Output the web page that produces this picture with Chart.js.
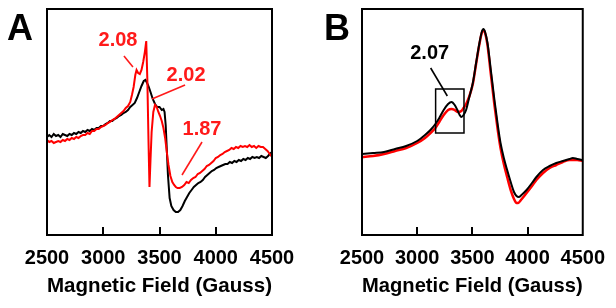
<!DOCTYPE html>
<html>
<head>
<meta charset="utf-8">
<script src="https://cdn.jsdelivr.net/npm/chart.js@4.4.0/dist/chart.umd.min.js"></script>
<style>
  html, body { margin: 0; padding: 0; background: #fff; }
  body { width: 616px; height: 308px; position: relative; overflow: hidden; }
  .panel { position: absolute; top: 0; width: 308px; height: 308px; }
  #wa { left: 0; }
  #wb { left: 308px; }
</style>
</head>
<body>
<div class="panel" id="wa"><canvas id="ca" width="308" height="308"></canvas></div>
<div class="panel" id="wb"><canvas id="cb" width="308" height="308"></canvas></div>
<script>
// ---------- DATA ----------
const xTicks = [2500, 3000, 3500, 4000, 4500];
const xTitle = "Magnetic Field (Gauss)";

// Panel A – black trace (field, intensity in arbitrary units)
const aBlackField = [2500,2520,2540,2560,2580,2600,2620,2640,2660,2680,2700,2720,2740,2760,2780,2800,2820,2840,2860,2880,2900,2920,2940,2960,2980,3000,3020,3040,3060,3080,3100,3120,3140,3160,3180,3200,3220,3240,3260,3280,3300,3320,3340,3360,3375,3390,3405,3420,3440,3460,3480,3500,3520,3535,3545,3555,3565,3575,3590,3605,3625,3645,3665,3685,3705,3725,3745,3765,3785,3805,3825,3845,3865,3885,3905,3925,3945,3965,3985,4005,4025,4045,4065,4085,4105,4125,4145,4165,4185,4205,4225,4245,4265,4285,4305,4325,4345,4365,4385,4405,4425,4445,4465,4480,4500];
const aBlackValue = [98,100,98,101,99,100,98,101,100,99,101,100,102,101,103,102,104,103,105,104,106,105,107,107,109,109,111,112,114,114,116,117,119,120,122,123,125,128,130,132,137,143,149,154,155,152,148,143,136,131,128,128,125,126,123,110,85,60,37,29,25,23,23,25,29,34,38,42,45,48,50,52,53,55,58,60,62,64,65,67,68,69,70,71,71,73,72,74,73,75,74,76,75,77,76,78,77,78,77,79,78,77,79,81,83];

// Panel A – red trace
const aRedField = [2500,2520,2540,2560,2580,2600,2620,2640,2660,2680,2700,2720,2740,2760,2780,2800,2820,2840,2860,2880,2900,2920,2940,2960,2980,3000,3020,3040,3060,3080,3100,3120,3140,3160,3180,3200,3220,3240,3255,3270,3285,3296,3310,3325,3340,3355,3370,3382,3392,3402,3411,3420,3430,3445,3460,3475,3490,3505,3520,3535,3550,3565,3580,3597,3614,3630,3645,3660,3680,3700,3720,3740,3760,3780,3800,3820,3840,3860,3880,3900,3920,3940,3960,3980,4000,4020,4040,4060,4080,4100,4120,4140,4160,4180,4200,4220,4240,4260,4280,4300,4320,4340,4360,4380,4400,4420,4440,4460,4480,4500];
const aRedValue = [95,93,94,92,93,94,93,95,94,96,95,97,96,98,97,99,100,100,102,101,104,104,106,106,108,109,110,112,113,115,116,118,120,122,124,127,129,133,140,148,160,165,162,161,165,173,183,194,155,95,48,75,103,123,130,128,123,119,114,107,97,83,70,59,53,50,48,47,47,48,50,53,52,55,57,58,61,62,64,66,69,70,72,74,77,78,80,81,83,84,85,87,86,88,87,89,88,89,88,90,88,89,87,89,88,88,86,84,81,78];

// Panel B – black trace
const bBlackField = [2500,2600,2700,2800,2900,3000,3071,3120,3165,3200,3240,3280,3311,3340,3364,3385,3400,3420,3443,3470,3504,3535,3564,3585,3600,3615,3637,3665,3700,3730,3755,3785,3815,3850,3877,3900,3920,3945,3991,4040,4080,4140,4200,4260,4320,4380,4410,4450,4500];
const bBlackValue = [81,82,83,86,89,94,100,105,111,117,125,131,133,130,125,120,118,120,125,137,152,173,192,203,206,203,192,167,135,110,92,77,65,52,43,39,38,40,45,52,58,65,69,72,74,76,77,76,75];

// Panel B – red trace
const bRedField = [2500,2600,2700,2800,2900,3000,3071,3120,3165,3200,3240,3280,3311,3340,3370,3400,3420,3443,3470,3504,3535,3564,3585,3600,3615,3637,3665,3700,3730,3755,3785,3815,3850,3877,3900,3915,3940,3991,4040,4080,4140,4200,4260,4320,4380,4410,4450,4500];
const bRedValue = [78,79,81,84,87,92,97,102,107,113,120,125,126,125,123,124,127,131,138,151,172,191,202,205,202,190,163,130,105,87,71,58,44,36,32,32,35,42,49,55,62,67,70,73,75,75,75,74];

// Annotations (data coordinates)
const aLabels = [
  { text: "2.08", x: 3131, y: 195, from: [3184, 179], to: [3264, 168] },
  { text: "2.02", x: 3736, y: 160, from: [3727, 150], to: [3433, 136] },
  { text: "1.87", x: 3878, y: 106, from: [3878, 93],  to: [3700, 60] }
];
const bLabels = [
  { text: "2.07", x: 3113, y: 182, from: [3122, 167], to: [3273, 139] }
];
const bBox = { x0: 3167, x1: 3424, y0: 102, y1: 146 };

const Y_MIN = 0, Y_MAX = 226;
const FONT = '"Liberation Sans", Arial, Helvetica, sans-serif';

function pts(xs, ys) { return xs.map((x, i) => ({ x: x, y: ys[i] })); }

const framePlugin = {
  id: 'frame',
  afterDraw(chart, args, opts) {
    const { ctx, chartArea: ca, scales } = chart;
    const xs = scales.x, ys = scales.y;
    ctx.save();
    // box
    ctx.strokeStyle = '#000';
    ctx.lineWidth = 2;
    ctx.strokeRect(ca.left, ca.top, ca.right - ca.left, ca.bottom - ca.top);
    // inner ticks
    ctx.lineWidth = 2;
    xs.ticks.forEach(t => {
      if (t.value <= xs.min || t.value >= xs.max) return;
      const px = Math.round(xs.getPixelForValue(t.value));
      ctx.beginPath();
      ctx.moveTo(px, ca.bottom);
      ctx.lineTo(px, ca.bottom - 8);
      ctx.stroke();
    });
    // annotations
    ctx.font = 'bold 20px ' + FONT;
    ctx.textAlign = 'center';
    ctx.textBaseline = 'middle';
    (opts.labels || []).forEach(l => {
      ctx.fillStyle = opts.color;
      ctx.strokeStyle = opts.color;
      ctx.fillText(l.text, xs.getPixelForValue(l.x), ys.getPixelForValue(l.y));
      ctx.lineWidth = 1.6;
      ctx.beginPath();
      ctx.moveTo(xs.getPixelForValue(l.from[0]), ys.getPixelForValue(l.from[1]));
      ctx.lineTo(xs.getPixelForValue(l.to[0]), ys.getPixelForValue(l.to[1]));
      ctx.stroke();
    });
    if (opts.box) {
      const b = opts.box;
      const x0 = xs.getPixelForValue(b.x0), x1 = xs.getPixelForValue(b.x1);
      const y0 = ys.getPixelForValue(b.y1), y1 = ys.getPixelForValue(b.y0);
      ctx.strokeStyle = '#000';
      ctx.lineWidth = 1.5;
      ctx.strokeRect(x0, y0, x1 - x0, y1 - y0);
    }
    // panel letter
    ctx.fillStyle = '#000';
    ctx.font = 'bold 36px ' + FONT;
    ctx.textAlign = 'center';
    ctx.textBaseline = 'alphabetic';
    ctx.fillText(opts.letter, opts.letterX, 40);
    ctx.restore();
  }
};

function makeChart(id, datasets, padLeft, padRight, pluginOpts) {
  return new Chart(document.getElementById(id), {
    type: 'line',
    data: { datasets: datasets },
    options: {
      responsive: false,
      animation: false,
      devicePixelRatio: 1,
      layout: { padding: { left: padLeft, right: padRight, top: 9, bottom: 0 } },
      plugins: { legend: { display: false }, tooltip: { enabled: false }, frame: pluginOpts },
      elements: { point: { radius: 0 } },
      scales: {
        x: {
          type: 'linear', min: 2500, max: 4500,
          afterBuildTicks: s => { s.ticks = xTicks.map(v => ({ value: v })); },
          afterFit: s => { s.height = 73; },
          grid: { display: false, drawTicks: false },
          border: { display: false },
          ticks: {
            maxRotation: 0, autoSkip: false, padding: 11, color: '#000',
            font: { family: FONT, size: 20, weight: 'bold' },
            callback: v => String(v)
          },
          title: {
            display: true, text: xTitle, color: '#000',
            font: { family: FONT, size: 21, weight: 'bold' },
            padding: { top: 0, bottom: 9 }
          }
        },
        y: { type: 'linear', min: Y_MIN, max: Y_MAX, display: false }
      }
    },
    plugins: [framePlugin]
  });
}

Chart.defaults.font.family = FONT;

makeChart('ca', [
  { data: pts(aRedField, aRedValue), borderColor: '#ff0000', borderWidth: 2, tension: 0, fill: false },
  { data: pts(aBlackField, aBlackValue), borderColor: '#000000', borderWidth: 2, tension: 0, fill: false }
], 47, 36, { labels: aLabels, color: '#ff1a1a', letter: 'A', letterX: 20 });

makeChart('cb', [
  { data: pts(bBlackField, bBlackValue), borderColor: '#000000', borderWidth: 2, tension: 0.4, cubicInterpolationMode: 'monotone', fill: false },
  { data: pts(bRedField, bRedValue), borderColor: '#ff0000', borderWidth: 2.5, tension: 0.4, cubicInterpolationMode: 'monotone', fill: false }
], 54, 29, { labels: bLabels, color: '#000', box: bBox, letter: 'B', letterX: 29 });
</script>
</body>
</html>
